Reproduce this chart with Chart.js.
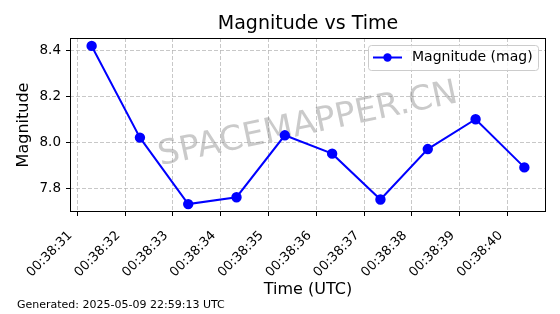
<!DOCTYPE html>
<html>
<head>
<meta charset="utf-8">
<script src="https://cdn.jsdelivr.net/npm/chart.js@4.4.0/dist/chart.umd.min.js"></script>
<style>
  html, body { margin: 0; padding: 0; background: #fff; }
  canvas { display: block; }
</style>
</head>
<body>
<canvas id="magChart" width="560" height="314"></canvas>
<script>
const times = ['00:38:31.30', '00:38:32.31', '00:38:33.32', '00:38:34.33', '00:38:35.34',
               '00:38:36.33', '00:38:37.34', '00:38:38.33', '00:38:39.33', '00:38:40.35'];
const magnitudes = [8.42, 8.02, 7.73, 7.76, 8.03, 7.95, 7.75, 7.97, 8.10, 7.89];
const xTickLabels = ['00:38:31', '00:38:32', '00:38:33', '00:38:34', '00:38:35',
                     '00:38:36', '00:38:37', '00:38:38', '00:38:39', '00:38:40'];
const yTickValues = [7.8, 8.0, 8.2, 8.4];

const seriesLabel = 'Magnitude (mag)';
const chartTitle = 'Magnitude vs Time';
const xTitle = 'Time (UTC)';
const yTitle = 'Magnitude';
const watermarkText = 'SPACEMAPPER.CN';
const footerText = 'Generated: 2025-05-09 22:59:13 UTC';

const FONT = "'DejaVu Sans', sans-serif";
const BLUE = '#0000ff';

function toSeconds(t) {
    const [h, m, s] = t.split(':');
    return Number(h) * 3600 + Number(m) * 60 + parseFloat(s);
}

function formatTime(sec) {
    const total = Math.round(sec);
    const pad = n => String(n).padStart(2, '0');
    return pad(Math.floor(total / 3600)) + ':' + pad(Math.floor((total % 3600) / 60)) + ':' + pad(total % 60);
}

// matplotlib style 5% margins
function withMargin(values) {
    const lo = Math.min(...values), hi = Math.max(...values);
    const m = (hi - lo) * 0.05;
    return { min: lo - m, max: hi + m };
}

const xValues = times.map(toSeconds);
const points = xValues.map((x, i) => ({ x, y: magnitudes[i] }));
const xRange = withMargin(xValues);
const yRange = withMargin(magnitudes);

const decorations = {
    id: 'decorations',
    beforeDatasetsDraw(chart) {
        const { ctx, chartArea: a } = chart;
        ctx.save();
        ctx.translate((a.left + a.right) / 2, (a.top + a.bottom) / 2);
        ctx.rotate(-12 * Math.PI / 180);
        ctx.font = '34px ' + FONT;
        ctx.fillStyle = 'rgba(128,128,128,0.42)';
        ctx.textAlign = 'center';
        ctx.textBaseline = 'middle';
        ctx.fillText(watermarkText, 0, 0);
        ctx.restore();
    },
    afterDatasetsDraw(chart) {
        const { ctx, chartArea: a } = chart;
        ctx.save();
        // frame (all four spines)
        ctx.strokeStyle = '#000';
        ctx.lineWidth = 1;
        ctx.strokeRect(a.left + 0.5, a.top + 0.5, a.right - a.left - 1, a.bottom - a.top - 1);

        // legend
        const lx = 368, ly = 45, lw = 170, lh = 25;
        ctx.beginPath();
        ctx.roundRect(lx + 0.5, ly + 0.5, lw, lh, 3);
        ctx.fillStyle = 'rgba(255,255,255,0.8)';
        ctx.fill();
        ctx.strokeStyle = '#cccccc';
        ctx.stroke();
        const cy = ly + lh / 2;
        ctx.strokeStyle = BLUE;
        ctx.lineWidth = 2;
        ctx.beginPath();
        ctx.moveTo(373, cy);
        ctx.lineTo(402, cy);
        ctx.stroke();
        ctx.fillStyle = BLUE;
        ctx.beginPath();
        ctx.arc(387.5, cy, 4.2, 0, Math.PI * 2);
        ctx.fill();
        ctx.fillStyle = '#000';
        ctx.font = '14px ' + FONT;
        ctx.textBaseline = 'middle';
        ctx.fillText(seriesLabel, 412, cy);
        ctx.restore();
    },
    afterDraw(chart) {
        const { ctx, chartArea: a } = chart;
        ctx.save();
        ctx.fillStyle = '#000';
        ctx.textBaseline = 'middle';
        ctx.textAlign = 'center';
        ctx.font = '19px ' + FONT;
        ctx.fillText(chartTitle, (a.left + a.right) / 2, 24);
        ctx.textAlign = 'left';
        ctx.font = '11px ' + FONT;
        ctx.fillText(footerText, 17, 305);
        ctx.restore();
    }
};

const gridStyle = {
    color: 'rgba(176,176,176,0.7)',
    lineWidth: 1,
    tickColor: '#000',
    tickLength: 4,
    tickWidth: 1
};

new Chart(document.getElementById('magChart'), {
    type: 'line',
    data: {
        datasets: [{
            label: seriesLabel,
            data: points,
            borderColor: BLUE,
            backgroundColor: BLUE,
            borderWidth: 2,
            pointRadius: 4.2,
            pointBackgroundColor: BLUE,
            pointBorderColor: BLUE,
            tension: 0,
            fill: false
        }]
    },
    options: {
        responsive: false,
        animation: false,
        layout: { padding: { top: 38, right: 14, left: 0, bottom: 0 } },
        plugins: {
            legend: { display: false },
            tooltip: { enabled: false }
        },
        scales: {
            x: {
                type: 'linear',
                min: xRange.min,
                max: xRange.max,
                afterBuildTicks: scale => {
                    scale.ticks = xTickLabels.map(t => ({ value: toSeconds(t) }));
                },
                afterCalculateLabelRotation: scale => { scale.labelRotation = 45; },
                afterFit: scale => { scale.height = 102; },
                ticks: {
                    autoSkip: false,
                    minRotation: 45,
                    maxRotation: 45,
                    padding: 12,
                    labelOffset: -7,
                    color: '#000',
                    font: { family: FONT, size: 13 },
                    callback: v => formatTime(v)
                },
                grid: gridStyle,
                border: { display: false, dash: [4, 2] },
                title: {
                    display: true,
                    text: xTitle,
                    color: '#000',
                    font: { family: FONT, size: 16 },
                    padding: { top: 0, bottom: 15 }
                }
            },
            y: {
                type: 'linear',
                min: yRange.min,
                max: yRange.max,
                afterBuildTicks: scale => {
                    scale.ticks = yTickValues.map(v => ({ value: v }));
                },
                afterFit: scale => { scale.width = 70; },
                ticks: {
                    padding: 5,
                    color: '#000',
                    font: { family: FONT, size: 13.5 },
                    callback: v => Number(v).toFixed(1)
                },
                grid: gridStyle,
                border: { display: false, dash: [4, 2] },
                title: {
                    display: true,
                    text: yTitle,
                    color: '#000',
                    font: { family: FONT, size: 16 },
                    padding: { top: 14.5, bottom: 0 }
                }
            }
        }
    },
    plugins: [decorations]
});
</script>
</body>
</html>
